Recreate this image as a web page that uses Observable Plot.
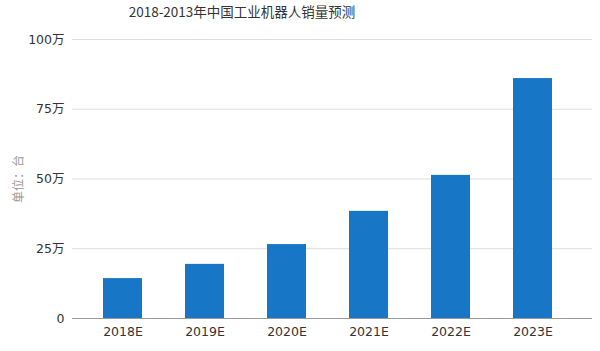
<!DOCTYPE html>
<html>
<head>
<meta charset="utf-8">
<script src="https://cdn.jsdelivr.net/npm/d3@7"></script>
<script src="https://cdn.jsdelivr.net/npm/@observablehq/plot@0.6"></script>
<style>
  html, body { margin: 0; padding: 0; background: #fff; }
  #wrap { position: relative; width: 600px; height: 351px; overflow: hidden; }
  #title { position: absolute; left: 0; top: 1px; width: 484px; text-align: center;
    font-family: "Noto Sans CJK SC", sans-serif; font-size: 13.5px; color: #333; }
  #chart { position: absolute; left: 0; top: 0; }
</style>
</head>
<body>
<div id="wrap">
  <div id="chart"></div>
  <div id="title">2018-2013年中国工业机器人销量预测</div>
</div>
<script>
const categories = ["2018E", "2019E", "2020E", "2021E", "2022E", "2023E"];
const sales = [14.3, 19.4, 26.5, 38.4, 51.3, 86.0];
const yTicks = [0, 25, 50, 75, 100];
const yTickLabels = ["0", "25万", "50万", "75万", "100万"];
const unitLabel = "单位：台";

const data = categories.map((c, i) => ({category: c, value: sales[i]}));

const chart = Plot.plot({
  width: 600,
  height: 351,
  marginTop: 39,
  marginBottom: 33,
  marginLeft: 80,
  marginRight: 26,
  style: {fontFamily: "'DejaVu Sans', 'Noto Sans CJK SC', sans-serif", fontSize: "12.5px", color: "#333", background: "#fff"},
  x: {domain: categories, paddingInner: 0.527, paddingOuter: 0.2635, label: null},
  y: {domain: [0, 100], label: null},
  marks: [
    Plot.ruleY(yTicks.slice(1), {stroke: "#ddd", strokeWidth: 1, insetLeft: -8, insetRight: -18}),
    Plot.barY(data, {x: "category", y: "value", fill: "#1776c6"}),
    Plot.ruleY([0], {stroke: "#999", strokeWidth: 1, insetLeft: -8, insetRight: -18}),
    Plot.axisY({ticks: yTicks, tickSize: 0, tickPadding: 16, tickFormat: (d) => yTickLabels[yTicks.indexOf(d)], fill: "#333", label: null}),
    Plot.axisX({tickSize: 0, tickPadding: 9, fill: "#333", label: null}),
    Plot.text([unitLabel], {frameAnchor: "left", textAnchor: "middle", dx: -61, dy: 0, rotate: -90, text: d => d, fill: "#999", fontSize: 12,
      fontFamily: "'Noto Sans CJK SC', sans-serif"})
  ]
});
document.getElementById("chart").appendChild(chart);
</script>
</body>
</html>
